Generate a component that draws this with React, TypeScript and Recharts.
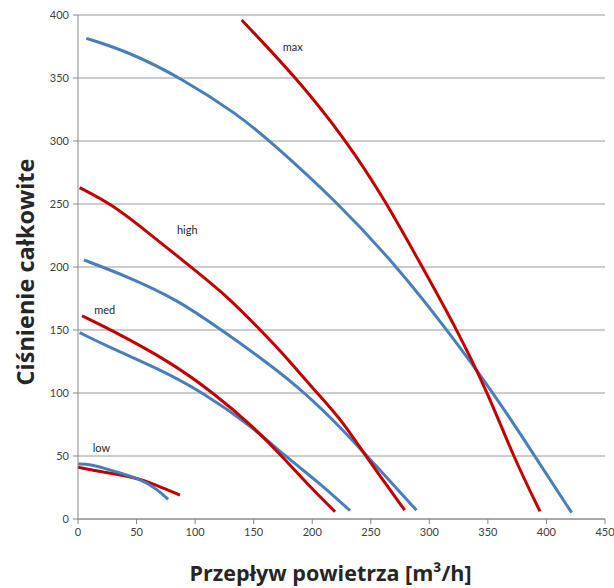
import React from 'react';
import { LineChart, Line, XAxis, YAxis, CartesianGrid, ReferenceDot, Label } from 'recharts';

// flow [m3/h] and pressure for each fan curve
const maxRedX = [139.8, 186.7, 229.4, 262.2, 293.5, 323.4, 350, 371.5, 394.5];
const maxRedY = [396, 350, 300, 253, 200.8, 150.6, 100, 50, 6];
const maxBlueX = [7.1, 42.7, 88.2, 136.6, 164, 222, 272, 314.8, 357, 390, 421.5];
const maxBlueY = [381.5, 371, 350, 321, 300, 251, 200.8, 150.6, 97, 50, 5];
const highRedX = [1.4, 28.5, 57, 95.4, 128, 155, 172.5, 203.8, 225.2, 247.9, 279];
const highRedY = [263, 250, 229.4, 200.8, 176.4, 150.6, 134, 100.2, 78.6, 46.8, 7];
const highBlueX = [5, 42.7, 85.4, 122.4, 150, 188, 215.2, 243.6, 289];
const highBlueY = [205.6, 192.3, 173.8, 150, 132, 105, 81.2, 53.4, 7];
const medRedX = [3.4, 28.5, 78.6, 115.5, 149.7, 174, 198, 219.5];
const medRedY = [161.3, 150, 124.8, 100.2, 73.3, 50, 25.6, 5.8];
const medBlueX = [1.4, 28.5, 69.7, 107, 146.9, 176.8, 206.6, 232.3];
const medBlueY = [147.9, 135.5, 118.8, 100.2, 74.6, 50, 28.3, 6.6];
const lowRedX = [0, 19, 47, 67, 87];
const lowRedY = [41, 37.5, 33.6, 27, 19];
const lowBlueX = [0, 10, 27, 53, 67, 77];
const lowBlueY = [43.7, 43.5, 39, 32, 24, 15.6];

const curveLabels = ['max', 'high', 'med', 'low'];
const labelX = [183.3, 93.3, 22.8, 20];
const labelY = [374.6, 228.9, 165.9, 56];

const xTicks = [0, 50, 100, 150, 200, 250, 300, 350, 400, 450];
const yTicks = [0, 50, 100, 150, 200, 250, 300, 350, 400];

const RED = '#c00000';
const BLUE = '#4a7ebb';

const zip = (xs: number[], ys: number[]) => xs.map((x, i) => ({ x, y: ys[i] }));

const series = [
  { key: 'maxBlue', data: zip(maxBlueX, maxBlueY), color: BLUE },
  { key: 'maxRed', data: zip(maxRedX, maxRedY), color: RED },
  { key: 'highBlue', data: zip(highBlueX, highBlueY), color: BLUE },
  { key: 'highRed', data: zip(highRedX, highRedY), color: RED },
  { key: 'medBlue', data: zip(medBlueX, medBlueY), color: BLUE },
  { key: 'medRed', data: zip(medRedX, medRedY), color: RED },
  { key: 'lowRed', data: zip(lowRedX, lowRedY), color: RED },
  { key: 'lowBlue', data: zip(lowBlueX, lowBlueY), color: BLUE },
];

const titleStyle = { fontWeight: 'bold', fill: '#262626', fontFamily: '"Open Sans", sans-serif' };

export default function App() {
  const tickStyle = { fontSize: 11, fill: '#404040' };
  return (
    <div style={{ position: 'absolute', left: 0, top: 0, width: 614, height: 588, background: '#fff', fontFamily: 'Lato, sans-serif' }}>
      <LineChart width={614} height={588} margin={{ top: 15, right: 9, left: 0, bottom: 0 }}>
        <CartesianGrid vertical={false} stroke="#999" />
        <XAxis
          type="number"
          dataKey="x"
          domain={[0, 450]}
          ticks={xTicks}
          height={69}
          stroke="#868686"
          tickSize={5}
          tickMargin={4}
          tick={tickStyle}
          allowDuplicatedCategory={false}
        >
          <Label
            value="Przepływ powietrza [m³/h]"
            position="insideBottom"
            offset={7}
            dx={-11}
            style={{ ...titleStyle, fontSize: 21.5 }}
          />
        </XAxis>
        <YAxis
          type="number"
          dataKey="y"
          domain={[0, 400]}
          ticks={yTicks}
          width={78}
          stroke="#868686"
          tickSize={5}
          tickMargin={4}
          tick={tickStyle}
        >
          <Label
            content={() => (
              <text
                transform="translate(25,272) rotate(-90)"
                textAnchor="middle"
                dominantBaseline="central"
                style={{ ...titleStyle, fontSize: 23.5 }}
              >
                Ciśnienie całkowite
              </text>
            )}
          />
        </YAxis>
        {series.map((s) => (
          <Line
            key={s.key}
            data={s.data}
            dataKey="y"
            type="basis"
            stroke={s.color}
            strokeWidth={3}
            dot={false}
            isAnimationActive={false}
          />
        ))}
        {curveLabels.map((t, i) => (
          <ReferenceDot
            key={t}
            x={labelX[i]}
            y={labelY[i]}
            r={0}
            fill="none"
            stroke="none"
            label={{ value: t, position: 'center', fontSize: 11, fill: '#262626' }}
          />
        ))}
      </LineChart>
    </div>
  );
}
